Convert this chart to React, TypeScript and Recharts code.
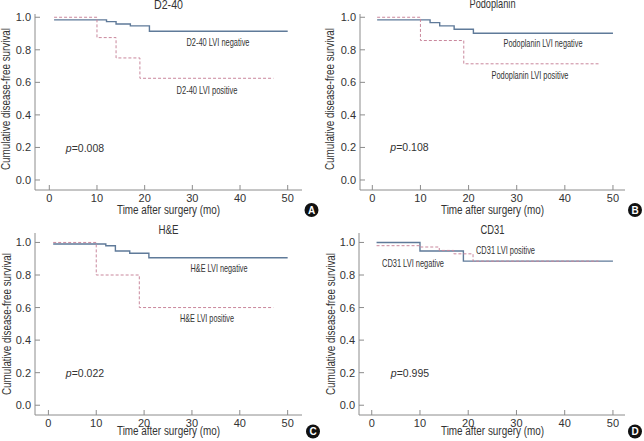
import React from "react";
import { LineChart, Line, XAxis, YAxis } from "recharts";

// Kaplan-Meier curves (months, survival)
const negMonthsA = [1, 12, 14, 17, 21, 50];
const negSurvA = [0.984, 0.973, 0.959, 0.947, 0.914, 0.914];
const posMonthsA = [1, 10, 14, 19, 47];
const posSurvA = [1, 0.875, 0.75, 0.625, 0.625];

const negMonthsB = [1, 12, 14, 17, 21, 50];
const negSurvB = [0.984, 0.967, 0.947, 0.926, 0.902, 0.902];
const posMonthsB = [1, 10, 19, 47];
const posSurvB = [1, 0.857, 0.714, 0.714];

const negMonthsC = [1, 12, 14, 17, 21, 50];
const negSurvC = [0.99, 0.98, 0.947, 0.934, 0.906, 0.906];
const posMonthsC = [1, 10, 19, 47];
const posSurvC = [1, 0.8, 0.6, 0.6];

const negMonthsD = [1, 10, 19, 50];
const negSurvD = [1, 0.947, 0.885, 0.885];
const posMonthsD = [1, 10, 14, 17, 21, 47];
const posSurvD = [0.98, 0.972, 0.951, 0.93, 0.885, 0.885];

const xTicks = [0, 10, 20, 30, 40, 50];
const yTicks = [0, 0.2, 0.4, 0.6, 0.8, 1.0];

const titles = ["D2-40", "Podoplanin", "H&E", "CD31"];
const letters = ["A", "B", "C", "D"];
const pValues = ["0.008", "0.108", "0.022", "0.995"];
const xTitle = "Time after surgery (mo)";
const yTitle = "Cumulative disease-free survival";

const FONT = "'Liberation Sans Narrow', 'Arial Narrow', 'Liberation Sans', Arial, sans-serif";
const TEXT = "#333";
const AXIS = "#8c8c8c";
const NEG = "#5f7a99";
const POS = "#c9879c";

const toSeries = (months: number[], surv: number[]) =>
  months.map((t, i) => ({ t, s: surv[i] }));

const YTick = (props: any) => {
  const { x, y, payload } = props;
  return (
    <g>
      <line x1={x} x2={x + 5} y1={y} y2={y} stroke={AXIS} />
      <text x={x - 4} y={y + 4} textAnchor="end" fontSize={11} fill={TEXT} fontFamily={FONT}>
        {Number(payload.value).toFixed(1)}
      </text>
    </g>
  );
};

const XTick = (props: any) => {
  const { x, y, payload } = props;
  return (
    <g>
      <line x1={x} x2={x} y1={y} y2={y - 5} stroke={AXIS} />
      <text x={x} y={y + 12} textAnchor="middle" fontSize={11} fill={TEXT} fontFamily={FONT}>
        {payload.value}
      </text>
    </g>
  );
};

type Panel = {
  left: number;
  top: number;
  plotLeft: number;
  plotRight: number;
  plotTop: number;
  plotBottom: number;
  xDomain: [number, number];
  yDomain: [number, number];
  neg: { t: number; s: number }[];
  pos: { t: number; s: number }[];
};

const W = 322;
const H = 221;

const panels: Panel[] = [
  { left: 0, top: 0, plotLeft: 35, plotRight: 302, plotTop: 14, plotBottom: 190, xDomain: [-3, 53], yDomain: [-0.0615, 1.02], neg: toSeries(negMonthsA, negSurvA), pos: toSeries(posMonthsA, posSurvA) },
  { left: 322, top: 0, plotLeft: 38, plotRight: 303, plotTop: 14, plotBottom: 190, xDomain: [-2.56, 52.5], yDomain: [-0.0615, 1.02], neg: toSeries(negMonthsB, negSurvB), pos: toSeries(posMonthsB, posSurvB) },
  { left: 0, top: 220, plotLeft: 35, plotRight: 302, plotTop: 13, plotBottom: 195, xDomain: [-2.8, 53], yDomain: [-0.06, 1.058], neg: toSeries(negMonthsC, negSurvC), pos: toSeries(posMonthsC, posSurvC) },
  { left: 322, top: 220, plotLeft: 37, plotRight: 303, plotTop: 13, plotBottom: 195, xDomain: [-2.64, 52.5], yDomain: [-0.06, 1.058], neg: toSeries(negMonthsD, negSurvD), pos: toSeries(posMonthsD, posSurvD) },
];

function KmPanel({ p }: { p: Panel }) {
  return (
    <div style={{ position: "absolute", left: p.left, top: p.top, width: W, height: H }}>
      <LineChart
        width={W}
        height={H}
        margin={{ top: p.plotTop, right: W - p.plotRight, left: 0, bottom: H - p.plotBottom - 20 }}
      >
        <XAxis
          dataKey="t"
          type="number"
          domain={p.xDomain}
          allowDataOverflow
          ticks={xTicks}
          tick={<XTick />}
          tickSize={0}
          tickMargin={0}
          height={20}
          stroke={AXIS}
        />
        <YAxis
          type="number"
          domain={p.yDomain}
          allowDataOverflow
          ticks={yTicks}
          tick={<YTick />}
          tickSize={0}
          tickMargin={0}
          width={p.plotLeft}
          stroke={AXIS}
        />
        <Line
          data={p.neg}
          dataKey="s"
          type="stepAfter"
          stroke={NEG}
          strokeWidth={1.4}
          dot={false}
          isAnimationActive={false}
        />
        <Line
          data={p.pos}
          dataKey="s"
          type="stepAfter"
          stroke={POS}
          strokeWidth={1}
          strokeDasharray="3 2"
          dot={false}
          isAnimationActive={false}
        />
      </LineChart>
    </div>
  );
}

// annotation placement in page pixels: [text, cx, cy, width]
const notes: [string, number, number, number][] = [
  ["D2-40 LVI negative", 218, 42, 63],
  ["D2-40 LVI positive", 207, 90, 61],
  ["Podoplanin LVI negative", 543, 43.5, 79],
  ["Podoplanin LVI positive", 530, 75, 77],
  ["H&E LVI negative", 219, 268.5, 57],
  ["H&E LVI positive", 207, 318.5, 54],
  ["CD31 LVI positive", 505.5, 250, 59],
  ["CD31 LVI negative", 413, 263, 62],
];
const pPos: [number, number][] = [
  [85, 148],
  [409.5, 147.5],
  [85, 373.5],
  [410, 373.5],
];
const titlePos: [number, number, number][] = [
  [168.5, 8.5, 29],
  [492.5, 8, 46],
  [168.5, 233.5, 20],
  [492.5, 234, 24],
];
const xTitlePos: [number, number][] = [
  [168.5, 213.5],
  [492.5, 213.5],
  [168.5, 434.5],
  [492.5, 434.5],
];
const yTitlePos: [number, number][] = [
  [10, 99],
  [334, 99],
  [10.5, 324],
  [335, 324],
];
const circlePos: [number, number][] = [
  [311.5, 210],
  [635, 210],
  [313, 431.5],
  [635, 431.5],
];

function Overlay() {
  return (
    <svg
      width={644}
      height={441}
      style={{ position: "absolute", left: 0, top: 0, pointerEvents: "none" }}
      fontFamily={FONT}
      fill={TEXT}
    >
      {titles.map((t, i) => (
        <text key={t} x={titlePos[i][0]} y={titlePos[i][1]} textAnchor="middle" fontSize={13}
          textLength={titlePos[i][2]} lengthAdjust="spacingAndGlyphs">
          {t}
        </text>
      ))}
      {xTitlePos.map(([x, y], i) => (
        <text key={"x" + i} x={x} y={y} textAnchor="middle" fontSize={12.5}
          textLength={103} lengthAdjust="spacingAndGlyphs">
          {xTitle}
        </text>
      ))}
      {yTitlePos.map(([x, y], i) => (
        <text key={"y" + i} x={x} y={y} textAnchor="middle" fontSize={12.5}
          transform={`rotate(-90 ${x} ${y})`} textLength={142} lengthAdjust="spacingAndGlyphs">
          {yTitle}
        </text>
      ))}
      {notes.map(([t, x, y, w]) => (
        <text key={t} x={x} y={y + 3.8} textAnchor="middle" fontSize={10.5}
          textLength={w} lengthAdjust="spacingAndGlyphs">
          {t}
        </text>
      ))}
      {pPos.map(([x, y], i) => (
        <text key={"p" + i} x={x} y={y + 3.8} textAnchor="middle" fontSize={10.5}>
          <tspan fontStyle="italic">p</tspan>={pValues[i]}
        </text>
      ))}
      {circlePos.map(([x, y], i) => (
        <g key={"c" + i}>
          <circle cx={x} cy={y} r={7} fill="#111" />
          <text x={x} y={y + 3.5} textAnchor="middle" fontSize={10} fontWeight="bold" fill="#fff"
            fontFamily="'Liberation Sans', Arial, sans-serif">
            {letters[i]}
          </text>
        </g>
      ))}
    </svg>
  );
}

export default function App() {
  return (
    <div style={{ position: "absolute", left: 0, top: 0, width: 644, height: 441, background: "#fff" }}>
      {panels.map((p, i) => (
        <KmPanel key={i} p={p} />
      ))}
      <Overlay />
    </div>
  );
}
